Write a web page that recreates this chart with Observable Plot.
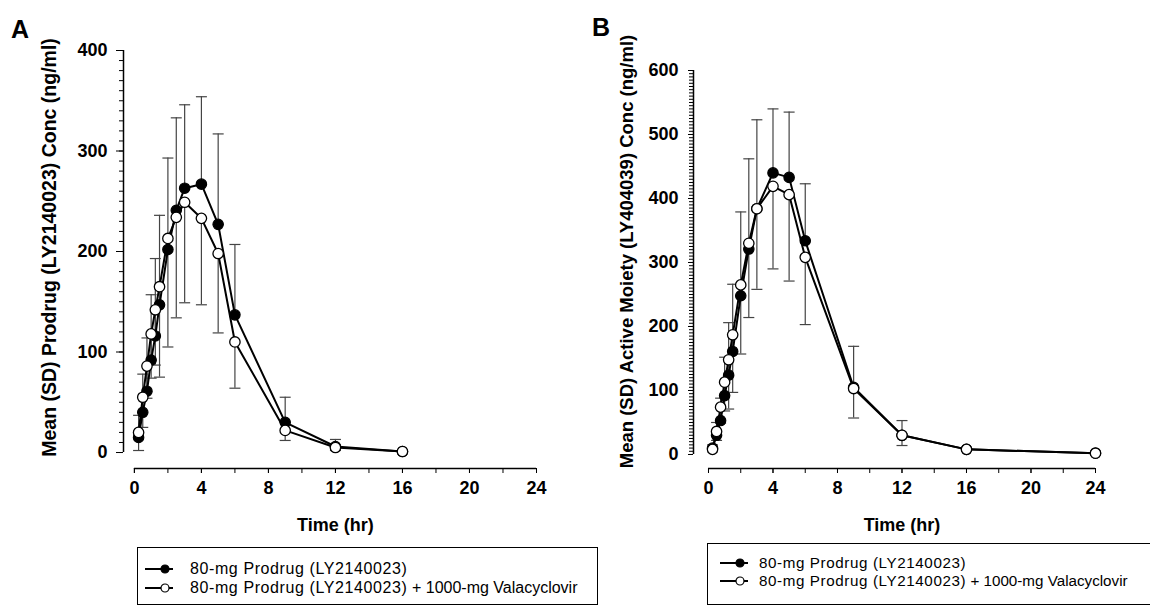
<!DOCTYPE html>
<html><head><meta charset="utf-8">
<script src="https://cdn.jsdelivr.net/npm/d3@7"></script>
<script src="https://cdn.jsdelivr.net/npm/@observablehq/plot@0.6"></script>
<style>
body{margin:0;background:#fff;font-family:"Liberation Sans",Arial,sans-serif;}
#wrap{position:relative;width:1150px;height:606px;overflow:hidden;background:#fff;}
.panel{position:absolute;top:0;}
.tag{position:absolute;font-weight:bold;font-size:25px;line-height:1;color:#000;}
.legend{position:absolute;border:1.5px solid #000;box-sizing:border-box;}
.row{position:absolute;line-height:1;color:#000;white-space:pre;display:flex;align-items:center;}
.row .a{letter-spacing:0.6px;}
</style>
</head><body>
<div id="wrap"></div>
<script>
// ---- Data ----
const timesA = [0.25,0.5,0.75,1,1.25,1.5,2,2.5,3,4,5,6,9,12,16];
const prodrugAloneA = [15,40,61,92,116,147,202,241,263,267,227,137,30,6,1];
const prodrugAloneSDA = [22,38,53,65,77,89,91,92,83,87,90,70,25,7,1];
const prodrugValaA = [20,55,86,118,142,165,213,234,249,233,198,110,22,5,1];
const prodrugValaSDA = [18,30,32,44,55,90,108,100,100,86,79,46,10,3,0];

const timesB = [0.25,0.5,0.75,1,1.25,1.5,2,2.5,3,4,5,6,9,12,16,24];
const moietyAloneB = [10,30,53,92,124,161,248,321,384,440,433,334,105,30,8,2];
const moietyAloneSDB = [5,20,35,60,82,105,131,141,139,100,102,89,64,23,3,1];
const moietyValaB = [8,36,74,113,148,187,265,330,384,419,406,308,103,30,8,2];
const moietyValaSDB = [4,14,25,45,77,90,108,116,126,129,135,105,46,16,3,1];

const xTicksMajor = [0,4,8,12,16,20,24];
const xTicksMinor = [0,2,4,6,8,10,12,14,16,18,20,22,24];
const seriesBase = "80-mg Prodrug (LY2140023)";
const seriesExtra = " + 1000-mg Valacyclovir";
const xTitle = "Time (hr)";
const yTitleA = "Mean (SD) Prodrug (LY2140023) Conc (ng/ml)";
const yTitleB = "Mean (SD) Active Moiety (LY404039) Conc (ng/ml)";

const cap = {draw(ctx){ ctx.moveTo(-5.5,0); ctx.lineTo(5.5,0); }};

function panel(o){
  const f = o.times.map((t,i)=>({t, v:o.fMean[i], hi:o.fMean[i]+o.fSD[i]}));
  const w = o.times.map((t,i)=>({t, v:o.oMean[i], lo:o.oMean[i]-o.oSD[i]}));
  const majors = d3.range(0, o.yMax+1, 100);
  const minors = d3.range(0, o.yMax+1, o.yMinor);
  return Plot.plot({
    width: 575, height: 545,
    marginLeft: o.mL, marginRight: o.mR, marginTop: o.mT, marginBottom: 77,
    x: {domain: [o.xLo, 24]},
    y: {domain: [o.yLo, o.yMax]},
    style: {fontFamily: "Liberation Sans, Arial, sans-serif", fontSize: "18px", fontWeight: "bold", color: "#000", background: "#fff", overflow: "visible"},
    marks: [
      Plot.ruleY([{y:o.yLo, a:0, b:24}], {y:"y", x1:"a", x2:"b", stroke:"#000", strokeWidth:1.5}),
      Plot.ruleX([{x:o.xLo, a:0, b:o.yMax}], {x:"x", y1:"a", y2:"b", stroke:"#000", strokeWidth:1.5}),
      Plot.axisX({ticks: xTicksMinor, tickSize: 5, fill: "none", label: null}),
      Plot.axisX({ticks: xTicksMajor, tickSize: 5, tickPadding: 8, label: null}),
      Plot.axisY({ticks: minors, tickSize: 4, fill: "none", label: null}),
      Plot.axisY({ticks: majors, tickSize: o.majorTick, tickPadding: o.yPad, label: null}),
      Plot.ruleX(f, {x:"t", y1:"v", y2:"hi", stroke:"#444", strokeWidth:1.2}),
      Plot.dot(f, {x:"t", y:"hi", symbol:cap, stroke:"#444", strokeWidth:1.2, fill:"none"}),
      Plot.ruleX(w, {x:"t", y1:"v", y2:"lo", stroke:"#444", strokeWidth:1.2}),
      Plot.dot(w, {x:"t", y:"lo", symbol:cap, stroke:"#444", strokeWidth:1.2, fill:"none"}),
      Plot.line(f, {x:"t", y:"v", stroke:"#000", strokeWidth:2}),
      Plot.line(w, {x:"t", y:"v", stroke:"#000", strokeWidth:2}),
      Plot.dot(f, {x:"t", y:"v", r:5.2, fill:"#000", stroke:"#000", strokeWidth:1.2}),
      Plot.dot(w, {x:"t", y:"v", r:5.2, fill:"#fff", stroke:"#000", strokeWidth:1.3}),
      Plot.text([o.title], {frameAnchor:"left", textAnchor:"middle", lineAnchor:"middle", rotate:-90, dx:o.tdx, dy:o.tdy, fontSize:o.tfs, fontWeight:"bold", fill:"#000"}),
      Plot.text([{t:12, s:xTitle}], {x:"t", text:"s", frameAnchor:"bottom", dy:62, fontSize:18, fontWeight:"bold", fill:"#000"})
    ]
  });
}

const wrap = document.getElementById("wrap");
const pA = panel({times:timesA, fMean:prodrugAloneA, fSD:prodrugAloneSDA, oMean:prodrugValaA, oSD:prodrugValaSDA,
  yMax:400, yMinor:10, yLo:-15.9, xLo:-0.65, mL:123, mR:39, mT:50, majorTick:7, yPad:9, title:yTitleA, tdx:-74, tdy:-12, tfs:19.5});
const pB = panel({times:timesB, fMean:moietyAloneB, fSD:moietyAloneSDB, oMean:moietyValaB, oSD:moietyValaSDB,
  yMax:600, yMinor:5, yLo:-21.9, xLo:-0.93, mL:118, mR:55, mT:70, majorTick:5, yPad:10, title:yTitleB, tdx:-66, tdy:-18, tfs:18.5});
const dA = document.createElement("div"); dA.className="panel"; dA.style.left="0px"; dA.appendChild(pA); wrap.appendChild(dA);
const dB = document.createElement("div"); dB.className="panel"; dB.style.left="575px"; dB.appendChild(pB); wrap.appendChild(dB);

function tag(txt, l, t){ const d=document.createElement("div"); d.className="tag"; d.textContent=txt; d.style.left=l+"px"; d.style.top=t+"px"; wrap.appendChild(d); }
tag("A", 11, 17); tag("B", 592, 15);

function sym(filled, gap){
  return `<svg width="28" height="12" viewBox="0 0 28 12" style="margin-right:${gap}px"><line x1="0" y1="6" x2="28" y2="6" stroke="#000" stroke-width="2"/><circle cx="20" cy="6" r="4" fill="${filled?'#000':'#fff'}" stroke="#000" stroke-width="1.2"/></svg>`;
}
function legend(box, rows, gap, fs){
  const b=document.createElement("div"); b.className="legend";
  Object.assign(b.style,{left:box[0]+"px",top:box[1]+"px",width:box[2]+"px",height:box[3]+"px"});
  wrap.appendChild(b);
  rows.forEach((r,i)=>{
    const d=document.createElement("div"); d.className="row";
    d.style.left=r[0]+"px"; d.style.top=(r[1]-7)+"px"; d.style.fontSize=fs+"px";
    d.innerHTML = sym(i===0, gap) + `<span class="a">${seriesBase}</span>` + (i===1 ? `<span>${seriesExtra.replace(/ /g,"\u00a0")}</span>` : "");
    wrap.appendChild(d);
  });
}
legend([137,547,461,58], [[145,568],[145,587]], 17, 16);
legend([707,543,460,62], [[720,562],[720,580]], 11, 15.2);
</script>
</body></html>
